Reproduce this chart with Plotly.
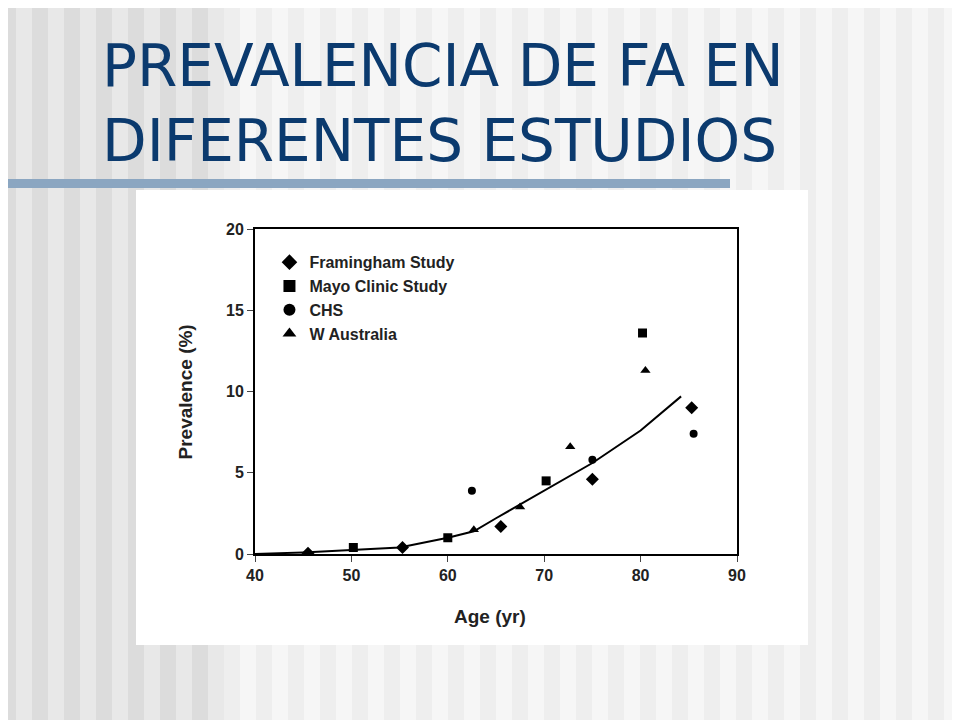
import plotly.graph_objects as go

fram_x = [45.5, 55.3, 65.5, 75.0, 85.3]
fram_y = [0.05, 0.4, 1.7, 4.6, 9.0]
mayo_x = [50.2, 60.0, 70.2, 80.2]
mayo_y = [0.4, 1.0, 4.5, 13.6]
chs_x = [62.5, 75.0, 85.5]
chs_y = [3.9, 5.8, 7.4]
wa_x = [62.7, 67.5, 72.7, 80.5]
wa_y = [1.5, 2.9, 6.6, 11.3]
fit_x = [40, 45, 50, 55, 60, 62.7, 65, 70, 75, 80, 84.2]
fit_y = [0, 0.1, 0.25, 0.4, 1.0, 1.4, 2.2, 3.9, 5.6, 7.6, 9.7]

OFF = 8
W, H = 960, 720
L, R, T, B = 255 - OFF, 737 - OFF, 229 - OFF, 554 - OFF

def fx(p):
    return (p - OFF - L) / (R - L)
def fy(p):
    return (B - (p - OFF)) / (B - T)

shapes = []
for i in range(0, W + 32, 16):
    if i < 216:
        c = "#dcdcdc" if (i // 16) % 2 == 0 else "#e8e8e8"
    else:
        c = "#eeeeee" if (i // 16) % 2 == 0 else "#f6f6f6"
    shapes.append(dict(type="rect", xref="paper", yref="paper", layer="below",
                       x0=fx(i), x1=fx(i + 16), y0=fy(740), y1=fy(0),
                       fillcolor=c, line_width=0))
shapes.append(dict(type="rect", xref="paper", yref="paper", layer="below",
                   x0=fx(0), x1=fx(730), y0=fy(188), y1=fy(179),
                   fillcolor="#8ba6c1", line_width=0))
shapes.append(dict(type="rect", xref="paper", yref="paper", layer="below",
                   x0=fx(136), x1=fx(808), y0=fy(645), y1=fy(190),
                   fillcolor="white", line_width=0))

fig = go.Figure()
mk = dict(color="black")
fig.add_trace(go.Scatter(x=fit_x, y=fit_y, mode="lines", line=dict(color="black", width=2), showlegend=False))
fig.add_trace(go.Scatter(x=fram_x, y=fram_y, mode="markers", name="<b>Framingham Study</b>",
                         marker=dict(symbol="diamond", size=10, **mk)))
fig.add_trace(go.Scatter(x=mayo_x, y=mayo_y, mode="markers", name="<b>Mayo Clinic Study</b>",
                         marker=dict(symbol="square", size=9, **mk)))
fig.add_trace(go.Scatter(x=chs_x, y=chs_y, mode="markers", name="<b>CHS</b>",
                         marker=dict(symbol="circle", size=8, **mk)))
fig.add_trace(go.Scatter(x=wa_x, y=wa_y, mode="markers", name="<b>W Australia</b>",
                         marker=dict(symbol="triangle-up", size=9, **mk)))

axfont = dict(family="Liberation Sans, Arial", size=16, color="#222", weight="bold")
fig.update_layout(
    width=W, height=H,
    margin=dict(l=L, r=W - R, t=T, b=H - B),
    paper_bgcolor="#f4f4f4", plot_bgcolor="white",
    shapes=shapes,
    xaxis=dict(range=[40, 90], tickvals=[40, 50, 60, 70, 80, 90], ticks="outside",
               ticklen=6, showline=True, linecolor="black", linewidth=2, mirror=True,
               showgrid=False, zeroline=False, tickfont=axfont),
    yaxis=dict(range=[0, 20], tickvals=[0, 5, 10, 15, 20], ticks="outside",
               ticklen=6, showline=True, linecolor="black", linewidth=2, mirror=True,
               showgrid=False, zeroline=False, tickfont=axfont),
    legend=dict(x=0.03, y=0.95, xanchor="left", yanchor="top", bgcolor="rgba(0,0,0,0)",
                font=dict(family="Liberation Sans, Arial", size=16, color="#222"),
                tracegroupgap=0, itemsizing="constant"),
    annotations=[
        dict(text="PREVALENCIA DE FA EN<br>DIFERENTES ESTUDIOS", xref="paper", yref="paper",
             x=fx(100), y=fy(30), xanchor="left", yanchor="top",
             showarrow=False, align="left",
             font=dict(family="DejaVu Sans", size=58, color="#0b3a6e")),
        dict(text="<b>Prevalence (%)</b>", xref="paper", yref="paper", textangle=-90,
             x=fx(172), y=fy(392), showarrow=False,
             font=dict(family="Liberation Sans, Arial", size=19, color="#222")),
        dict(text="<b>Age (yr)</b>", xref="paper", yref="paper",
             x=fx(490), y=fy(629), showarrow=False,
             font=dict(family="Liberation Sans, Arial", size=19, color="#222")),
    ],
)
fig.write_html("out.html")
